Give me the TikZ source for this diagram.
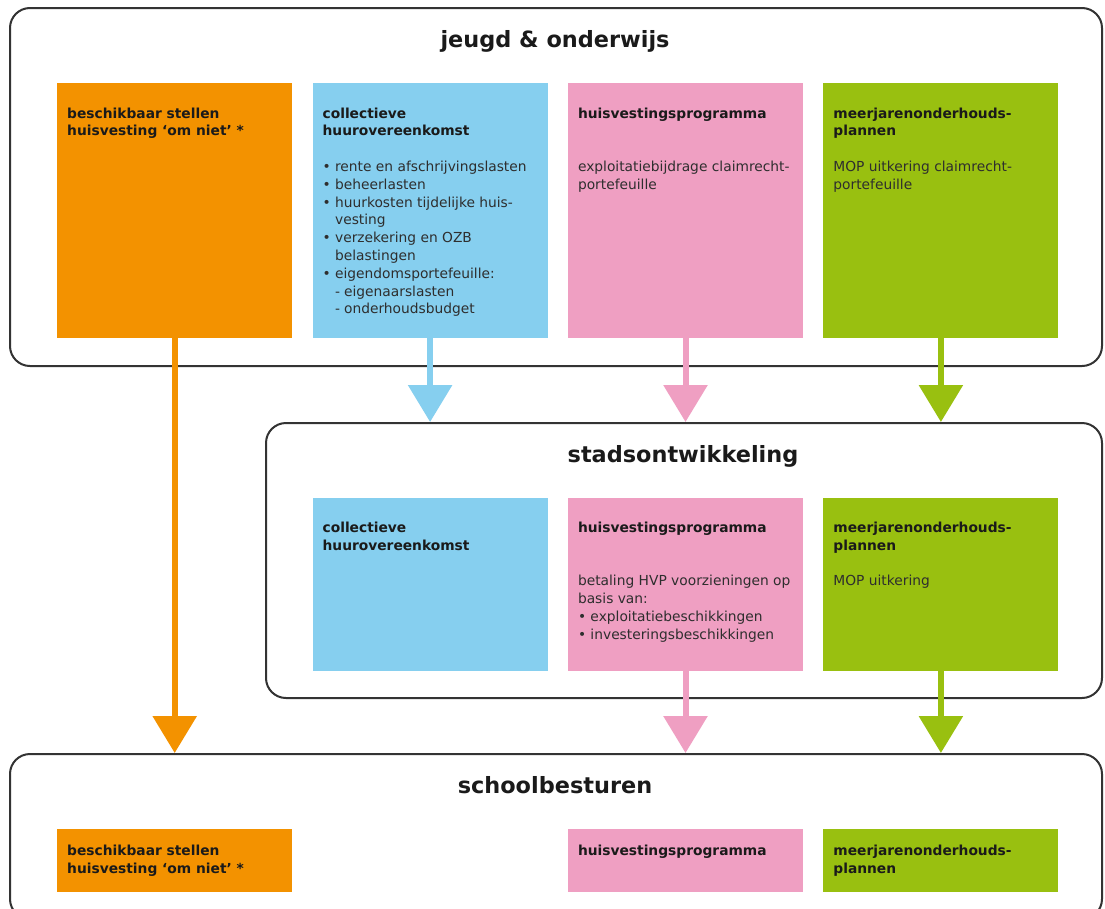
\documentclass[tikz,border=0pt]{standalone}
\usepackage{fontspec}
\setmainfont{DejaVu Sans}
\usepackage{xcolor}
\usepackage{tikz}
\usetikzlibrary{shapes,arrows.meta,positioning}
\definecolor{jbOrange}{HTML}{F39200}
\definecolor{jbBlue}{HTML}{86CFEF}
\definecolor{jbPink}{HTML}{EF9FC2}
\definecolor{jbGreen}{HTML}{99C010}
\definecolor{framegray}{HTML}{333333}
\definecolor{bodygray}{HTML}{2E2E2E}
\definecolor{headgray}{HTML}{1A1A1A}
\tikzstyle{group} = [rectangle, draw=framegray, line width=2pt, rounded corners=20pt,
    inner sep=0pt, anchor=north west]
\tikzstyle{grouptitle} = [font=\fontsize{22.4pt}{26pt}\selectfont\bfseries, text=headgray, anchor=base]
\tikzstyle{cell} = [rectangle, inner sep=0pt, minimum width=235pt, text=bodygray,
    font=\fontsize{13.8pt}{17.8pt}\selectfont]
\tikzstyle{flow} = [line width=6pt, -{Triangle[width=43pt,length=37pt]}]

\newcommand{\celltext}[3]{\hspace*{10pt}\parbox[c][#1][t]{225pt}{\raggedright\vspace*{#2}#3}}
\newcommand{\cellhead}[1]{{\bfseries\color{headgray}#1}}
\newcommand{\bulitem}[1]{\par\hangindent=12.5pt\hangafter=1\noindent\makebox[12.5pt][l]{•}#1}
\newcommand{\dashitem}[1]{\par\noindent\hspace*{12.5pt}\makebox[9pt][l]{-}#1}

\begin{document}
\begin{tikzpicture}[x=1pt, y=-1pt]
    \path [use as bounding box, fill=white] (0,0) rectangle (1105,908);
    \clip (0,0) rectangle (1105,908);

    % Groups
    \node [group, minimum width=1092pt, minimum height=358pt] (jeugd) at (9,7) {};
    \node [group, minimum width=836pt, minimum height=275pt] (stad) at (265,422) {};
    \node [group, minimum width=1092pt, minimum height=165pt] (school) at (9,753) {};
    \node [grouptitle] (jeugdtitle) at (555,47) {jeugd \& onderwijs};
    \node [grouptitle] (stadtitle) at (683,462) {stadsontwikkeling};
    \node [grouptitle] (schooltitle) at (555,793) {schoolbesturen};

    % jeugd & onderwijs
    \node [cell, fill=jbOrange, anchor=north west] (omniet) at (57,83)
        {\celltext{255pt}{24.5pt}{\cellhead{beschikbaar stellen\\huisvesting ‘om niet’ *}}};
    \node [cell, fill=jbBlue, right=20pt of omniet] (huur)
        {\celltext{255pt}{24.5pt}{\cellhead{collectieve\\huurovereenkomst}\par\vspace{17.8pt}
        \bulitem{rente en afschrijvingslasten}
        \bulitem{beheerlasten}
        \bulitem{huurkosten tijdelijke huis-\newline vesting}
        \bulitem{verzekering en OZB\newline belastingen}
        \bulitem{eigendomsportefeuille:}
        \dashitem{eigenaarslasten}
        \dashitem{onderhoudsbudget}}};
    \node [cell, fill=jbPink, right=20pt of huur] (hvp)
        {\celltext{255pt}{24.5pt}{\cellhead{huisvestingsprogramma}\par\vspace{35.6pt}
        exploitatiebijdrage claimrecht-\\portefeuille}};
    \node [cell, fill=jbGreen, right=20pt of hvp] (mop)
        {\celltext{255pt}{24.5pt}{\cellhead{meerjarenonderhouds-\\plannen}\par\vspace{17.8pt}
        MOP uitkering claimrecht-\\portefeuille}};

    % stadsontwikkeling
    \node [cell, fill=jbBlue, below=159pt of huur] (huur2)
        {\celltext{173pt}{24.5pt}{\cellhead{collectieve\\huurovereenkomst}}};
    \node [cell, fill=jbPink, right=20pt of huur2] (hvp2)
        {\celltext{173pt}{24.5pt}{\cellhead{huisvestingsprogramma}\par\vspace{35.6pt}
        betaling HVP voorzieningen op\\basis van:
        \bulitem{exploitatiebeschikkingen}
        \bulitem{investeringsbeschikkingen}}};
    \node [cell, fill=jbGreen, right=20pt of hvp2] (mop2)
        {\celltext{173pt}{24.5pt}{\cellhead{meerjarenonderhouds-\\plannen}\par\vspace{17.8pt}
        MOP uitkering}};

    % schoolbesturen
    \node [cell, fill=jbOrange, below=490pt of omniet] (omniet3)
        {\celltext{63pt}{16.5pt}{\cellhead{beschikbaar stellen\\huisvesting ‘om niet’ *}}};
    \node [cell, fill=jbPink, below=158pt of hvp2] (hvp3)
        {\celltext{63pt}{16.5pt}{\cellhead{huisvestingsprogramma}}};
    \node [cell, fill=jbGreen, below=158pt of mop2] (mop3)
        {\celltext{63pt}{16.5pt}{\cellhead{meerjarenonderhouds-\\plannen}}};

    % Connections
    \draw [flow, draw=jbOrange] (omniet) -- (omniet |- school.north);
    \draw [flow, draw=jbBlue] (huur) -- (huur |- stad.north);
    \draw [flow, draw=jbPink] (hvp) -- (hvp |- stad.north);
    \draw [flow, draw=jbGreen] (mop) -- (mop |- stad.north);
    \draw [flow, draw=jbPink] (hvp2) -- (hvp2 |- school.north);
    \draw [flow, draw=jbGreen] (mop2) -- (mop2 |- school.north);
\end{tikzpicture}
\end{document}
